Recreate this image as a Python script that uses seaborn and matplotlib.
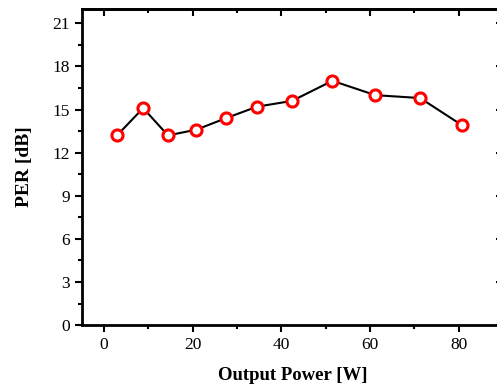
import numpy as np
import pandas as pd
import matplotlib
matplotlib.use("Agg")
import matplotlib.pyplot as plt
import seaborn as sns
from matplotlib.ticker import MultipleLocator, NullFormatter

# Data
power_w = [2.9, 8.8, 14.4, 20.8, 27.5, 34.5, 42.4, 51.5, 61.2, 71.3, 80.8]
per_db = [13.2, 15.1, 13.2, 13.6, 14.4, 15.2, 15.6, 17.0, 16.0, 15.8, 13.9]

df = pd.DataFrame({"power": power_w, "per": per_db})

sns.set_style("ticks")
plt.rcParams["font.family"] = ["Liberation Serif", "DejaVu Serif"]
plt.rcParams["axes.edgecolor"] = "black"
plt.rcParams["xtick.color"] = "black"
plt.rcParams["ytick.color"] = "black"
plt.rcParams["text.color"] = "black"
plt.rcParams["axes.labelcolor"] = "black"

fig = plt.figure(figsize=(4.97, 3.88), dpi=100)
ax = fig.add_axes([0.165, 0.162, 0.847, 0.815])

sns.lineplot(data=df, x="power", y="per", ax=ax, color="black", lw=1.5,
             marker="o", markersize=8, markerfacecolor="white",
             markeredgecolor="red", markeredgewidth=2.2)

ax.set_xlim(-5, 90)
ax.set_ylim(0, 22)
ax.xaxis.set_major_locator(MultipleLocator(20))
ax.xaxis.set_minor_locator(MultipleLocator(10))
ax.yaxis.set_major_locator(MultipleLocator(3))
ax.yaxis.set_minor_locator(MultipleLocator(1.5))

for s in ax.spines.values():
    s.set_linewidth(2)
    s.set_visible(True)

ax.tick_params(axis="both", which="major", direction="out", length=5, width=1.5,
               labelsize=12.5)
ax.tick_params(axis="both", which="minor", direction="out", length=3, width=1.5)

# mirrored ticks pointing inward on top and right
top = ax.secondary_xaxis("top")
top.xaxis.set_major_locator(MultipleLocator(20))
top.xaxis.set_minor_locator(MultipleLocator(10))
top.xaxis.set_major_formatter(NullFormatter())
top.tick_params(which="major", direction="in", length=5, width=1.5)
top.tick_params(which="minor", direction="in", length=3, width=1.5)
top.spines["top"].set_linewidth(2)

right = ax.secondary_yaxis("right")
right.yaxis.set_major_locator(MultipleLocator(3))
right.yaxis.set_minor_locator(MultipleLocator(1.5))
right.yaxis.set_major_formatter(NullFormatter())
right.tick_params(which="major", direction="in", length=5, width=1.5)
right.tick_params(which="minor", direction="in", length=3, width=1.5)
right.spines["right"].set_linewidth(2)

ax.set_xlabel("Output Power [W]", fontsize=13.5, fontweight="bold", labelpad=10)
ax.set_ylabel("PER [dB]", fontsize=14, fontweight="bold", labelpad=14)

fig.savefig("out.png", dpi=100)
